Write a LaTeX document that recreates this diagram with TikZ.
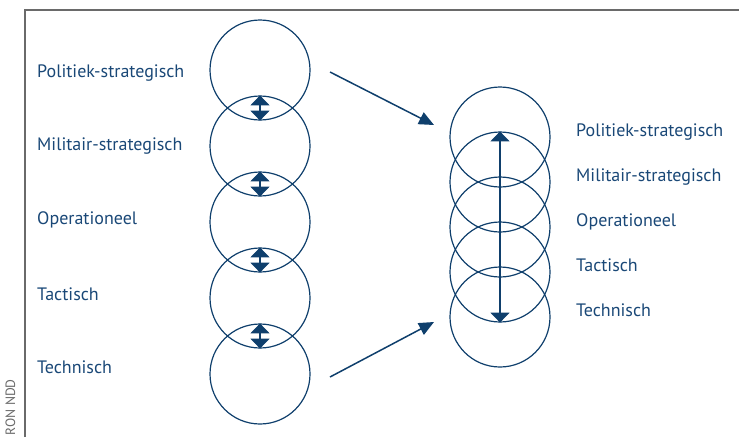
\documentclass[tikz,border=0pt]{standalone}
\usepackage{fontspec}
\setmainfont{PT Sans}
\usetikzlibrary{positioning,arrows.meta}
\definecolor{ndblue}{HTML}{0F3F6C}
\definecolor{ndtext}{HTML}{1A4877}
\definecolor{framegray}{HTML}{6A6A6A}
\tikzset{
	levelcircle/.style={circle, draw=ndblue, line width=1.2pt, minimum size=100pt, inner sep=0pt},
	levellabel/.style={anchor=base west, text=ndtext, font=\fontsize{18}{21}\selectfont, inner sep=0pt},
	overlap/.style={{Triangle[width=19pt,length=10pt]}-{Triangle[width=19pt,length=10pt]}, draw=ndblue, line width=1.2pt},
	shiftarrow/.style={-{Triangle[width=13pt,length=15pt]}, draw=ndblue, line width=1.5pt},
}

\begin{document}
\begin{tikzpicture}[x=1pt, y=-1pt]
	\useasboundingbox (0,0) rectangle (739,437);

	% kader
	\draw[framegray, line width=1.3pt] (25,437) -- (25,10) -- (739,10);
	\node[rotate=90, anchor=east, text=framegray, font=\fontsize{13.5}{16}\selectfont, inner sep=0pt] (bron) at (10.5,379) {RON NDD};

	% links: niveaus los van elkaar
	\node[levelcircle] (l1) at (260,70) {};
	\node[levelcircle] (l2) at (260,146) {};
	\node[levelcircle] (l3) at (260,222) {};
	\node[levelcircle] (l4) at (260,298) {};
	\node[levelcircle] (l5) at (260,374) {};

	\draw[overlap] (l2.north) -- (l1.south);
	\draw[overlap] (l3.north) -- (l2.south);
	\draw[overlap] (l4.north) -- (l3.south);
	\draw[overlap] (l5.north) -- (l4.south);

	\node[levellabel] (lpol) at (37,77) {Politiek-strategisch};
	\node[levellabel] (lmil) at (37,150) {Militair-strategisch};
	\node[levellabel] (lope) at (37,224) {Operationeel};
	\node[levellabel] (ltac) at (37,300) {Tactisch};
	\node[levellabel] (ltec) at (37,373) {Technisch};

	% rechts: niveaus in elkaar geschoven
	\node[levelcircle] (r1) at (500,137) {};
	\node[levelcircle] (r2) at (500,182) {};
	\node[levelcircle] (r3) at (500,227) {};
	\node[levelcircle] (r4) at (500,272) {};
	\node[levelcircle] (r5) at (500,317) {};

	\draw[overlap] (r2.north) -- (r4.south);

	\node[levellabel] (rpol) at (576,136) {Politiek-strategisch};
	\node[levellabel] (rmil) at (576,181) {Militair-strategisch};
	\node[levellabel] (rope) at (576,226) {Operationeel};
	\node[levellabel] (rtac) at (576,271) {Tactisch};
	\node[levellabel] (rtec) at (576,316) {Technisch};

	% van los naar samen
	\coordinate (toptail) at (330,72);
	\coordinate (tophead) at (434,125);
	\coordinate (bottail) at (330,377);
	\coordinate (bothead) at (434,322);
	\draw[shiftarrow] (toptail) -- (tophead);
	\draw[shiftarrow] (bottail) -- (bothead);
\end{tikzpicture}
\end{document}
